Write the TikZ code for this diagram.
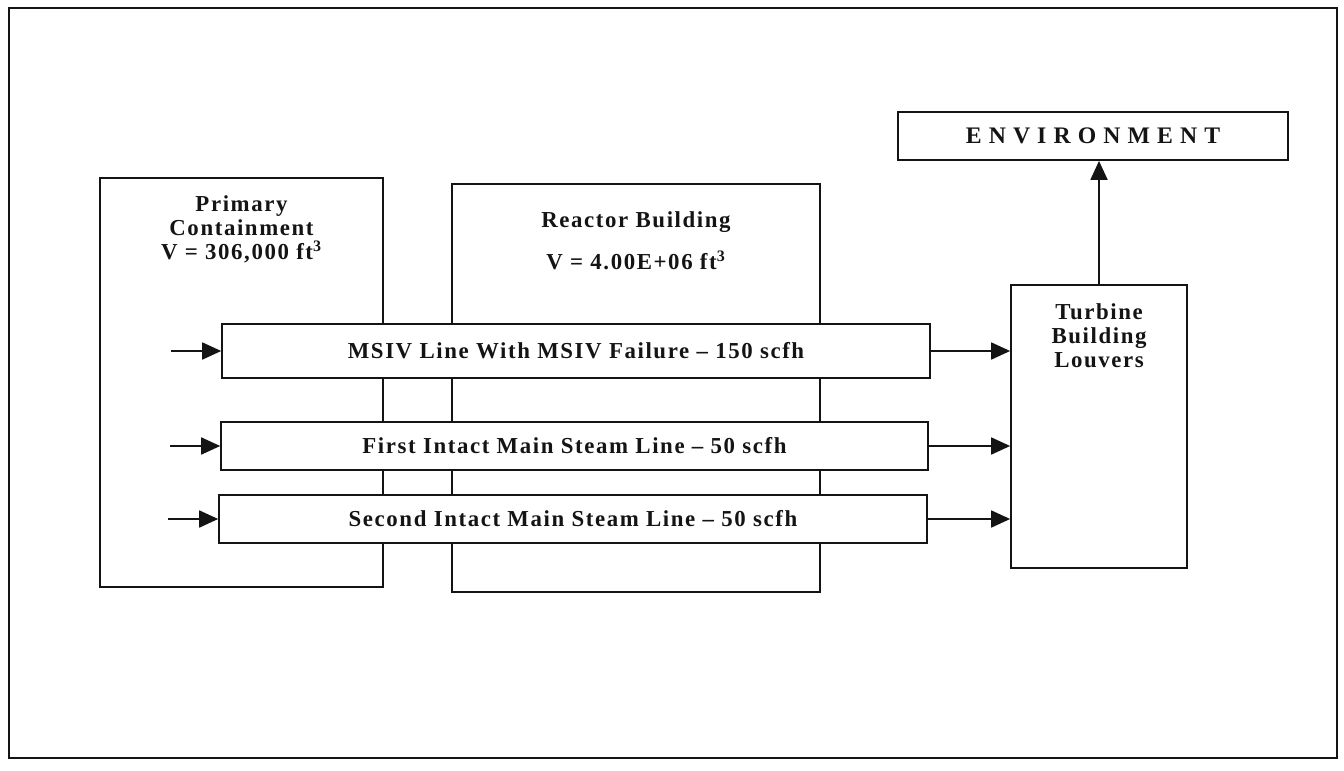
\documentclass[tikz,border=0pt]{standalone}
\usepackage{fontspec}
\setmainfont{Liberation Serif}
\usepackage{tikz}
\usetikzlibrary{arrows.meta, positioning, calc}
\definecolor{inkblack}{RGB}{20, 20, 20}
\tikzstyle{building} = [rectangle, draw=inkblack, line width=1pt, fill=white, inner sep=0pt]
\tikzstyle{steamline} = [rectangle, draw=inkblack, line width=1pt, fill=white,
                         font=\fontsize{13}{15}\selectfont\bfseries\addfontfeature{LetterSpace=7}, text=inkblack]
\tikzstyle{lbl} = [align=center, font=\fontsize{13}{13.7}\selectfont\bfseries\addfontfeature{LetterSpace=7},
                   text=inkblack, inner sep=0pt]
\tikzstyle{arrow} = [-{Triangle[length=0.38cm, width=0.34cm]}, line width=1pt, inkblack]

\begin{document}
\begin{tikzpicture}[x=0.02cm, y=-0.02cm]

% Page frame
\useasboundingbox (0,0) rectangle (1344,770);
\node[building, minimum width=26.56cm, minimum height=15cm] (frame) at (673,383) {};

% Buildings
\node[building, minimum width=5.66cm, minimum height=8.18cm] (pc) at (241.5,382.5) {};
\node[building, minimum width=7.36cm, minimum height=8.16cm] (rb) at (636,388) {};
\node[building, minimum width=3.52cm, minimum height=5.66cm] (tb) at (1099,426.5) {};

% Environment
\node[building, minimum width=7.8cm, minimum height=0.96cm, font=\fontsize{13.5}{16}\selectfont\bfseries,
      text=inkblack] (env) at (1093,136) {\addfontfeature{LetterSpace=30}ENVIRONMENT};

% Building labels
\node[lbl, anchor=north] (pctxt) at ([yshift=-0.36cm]pc.north) {Primary\\Containment\\V = 306,000 ft\textsuperscript{3}};
\node[lbl, anchor=north] (rbtxt) at ([yshift=-0.56cm]rb.north) {Reactor Building\\[0.36cm]V = 4.00E+06 ft\textsuperscript{3}};
\node[lbl, anchor=north] (tbtxt) at ([yshift=-0.38cm]tb.north) {Turbine\\Building\\Louvers};

% Steam lines
\node[steamline, minimum width=14.16cm, minimum height=1.08cm] (l1) at (576,351) {MSIV Line With MSIV Failure -- 150 scfh};
\node[steamline, minimum width=14.14cm, minimum height=0.96cm] (l2) at (574.5,446) {First Intact Main Steam Line -- 50 scfh};
\node[steamline, minimum width=14.16cm, minimum height=0.96cm] (l3) at (573,519) {Second Intact Main Steam Line -- 50 scfh};

% Inlet ends
\coordinate (in1) at ([xshift=-1cm]l1.west);
\coordinate (in2) at ([xshift=-1cm]l2.west);
\coordinate (in3) at ([xshift=-1cm]l3.west);

% Arrows into the lines
\draw[arrow] (in1) -- (l1.west);
\draw[arrow] (in2) -- (l2.west);
\draw[arrow] (in3) -- (l3.west);

% Arrows to turbine building
\draw[arrow] (l1.east) -- (l1.east -| tb.west);
\draw[arrow] (l2.east) -- (l2.east -| tb.west);
\draw[arrow] (l3.east) -- (l3.east -| tb.west);

% Release
\draw[arrow] (tb.north) -- (tb.north |- env.south);

\end{tikzpicture}
\end{document}
